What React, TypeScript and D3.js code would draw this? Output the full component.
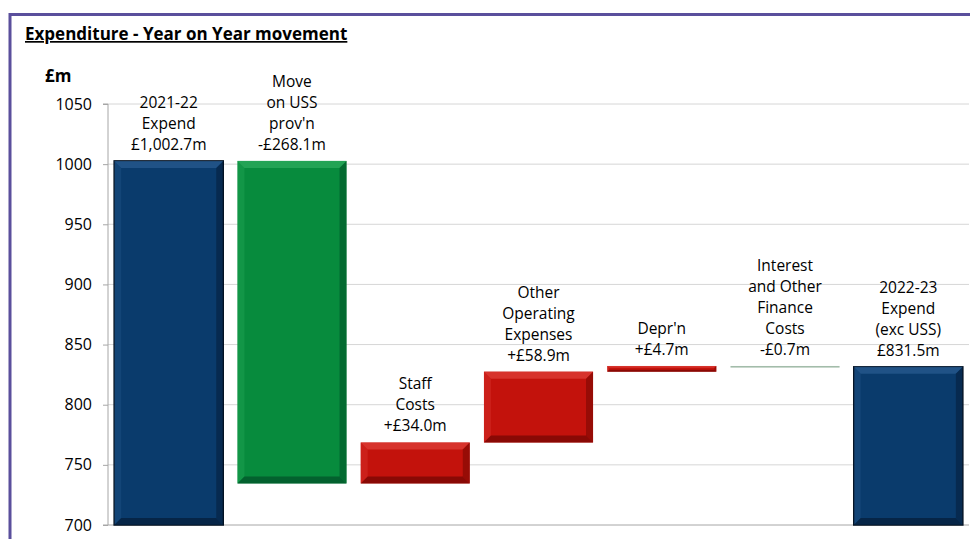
import React, { useEffect, useRef } from 'react';
import * as d3 from 'd3';

// Waterfall steps (in £m)
const labels: string[][] = [
    ['2021-22', 'Expend', '£1,002.7m'],
    ['Move', 'on USS', "prov'n", '-£268.1m'],
    ['Staff', 'Costs', '+£34.0m'],
    ['Other', 'Operating', 'Expenses', '+£58.9m'],
    ["Depr'n", '+£4.7m'],
    ['Interest', 'and Other', 'Finance', 'Costs', '-£0.7m'],
    ['2022-23', 'Expend', '(exc USS)', '£831.5m'],
];
const stepType = ['total', 'change', 'change', 'change', 'change', 'change', 'total'];
const stepValues = [1002.7, -268.1, 34.0, 58.9, 4.7, -0.7, 831.5];
const yTicks = [700, 750, 800, 850, 900, 950, 1000, 1050];

const FONT = "'Open Sans', 'Noto Sans', sans-serif";

export default function App() {
    const ref = useRef<SVGSVGElement | null>(null);

    useEffect(() => {
        const svg = d3.select(ref.current);
        svg.selectAll('*').remove();

        const W = 970;
        const H = 539;
        const margin = { top: 104, right: 1, bottom: 14, left: 108 };
        const innerW = W - margin.left - margin.right;
        const innerH = H - margin.top - margin.bottom;

        // frame
        svg.append('rect').attr('width', W).attr('height', H).attr('fill', '#fff');
        svg.append('line').attr('x1', 9).attr('x2', W).attr('y1', 14.5).attr('y2', 14.5)
            .attr('stroke', '#5a4f9c').attr('stroke-width', 3);
        svg.append('line').attr('x1', 10).attr('x2', 10).attr('y1', 13).attr('y2', H)
            .attr('stroke', '#5a4f9c').attr('stroke-width', 3);

        svg.append('text').attr('x', 25).attr('y', 40)
            .attr('font-family', FONT).attr('font-size', 17).attr('font-weight', 700)
            .attr('text-decoration', 'underline').attr('fill', '#000')
            .text('Expenditure - Year on Year movement');
        svg.append('text').attr('x', 45).attr('y', 82)
            .attr('font-family', FONT).attr('font-size', 17).attr('font-weight', 700)
            .attr('fill', '#000').text('£m');

        const g = svg.append('g').attr('transform', `translate(${margin.left},${margin.top})`);

        const x = d3.scaleBand<number>()
            .domain(d3.range(stepValues.length))
            .range([0, innerW])
            .paddingInner(0.115)
            .paddingOuter(0.05);
        const y = d3.scaleLinear().domain([700, 1050]).range([innerH, 0]);

        // gridlines
        g.selectAll('.grid').data(yTicks.slice(1)).enter().append('line')
            .attr('x1', 0).attr('x2', innerW)
            .attr('y1', (d) => y(d)).attr('y2', (d) => y(d))
            .attr('stroke', '#d6d6d6').attr('stroke-width', 1);

        const yAxis = g.append('g').call(d3.axisLeft(y).tickValues(yTicks).tickSize(5).tickPadding(11).tickFormat(d3.format('d')));
        yAxis.select('.domain').attr('stroke', '#a6a6a6').attr('d', `M-5,0H0V${innerH}H-5`);
        yAxis.selectAll('.tick line').attr('stroke', '#a6a6a6');
        yAxis.selectAll('.tick text').attr('font-family', FONT).attr('font-size', 16).attr('fill', '#000');
        g.append('line').attr('x1', 0).attr('x2', innerW).attr('y1', innerH).attr('y2', innerH)
            .attr('stroke', '#a6a6a6');

        // compute waterfall extents
        let running = 0;
        const steps = stepValues.map((v, i) => {
            let lo: number, hi: number;
            if (stepType[i] === 'total') {
                lo = 700; hi = v; running = v;
            } else {
                const next = running + v;
                lo = Math.min(running, next); hi = Math.max(running, next);
                running = next;
            }
            return { i, v, lo, hi };
        });

        const palette = (s: { i: number; v: number }) => {
            if (stepType[s.i] === 'total') return { base: '#0a3b6c', light: '#2a5d92', dark: '#05203e', stroke: '#03101f' };
            if (s.i === 1) return { base: '#078b3d', light: '#2fae5f', dark: '#03562a', stroke: 'none' };
            if (Math.abs(s.v) < 1) return { base: '#a3bcaa', light: '#a3bcaa', dark: '#a3bcaa', stroke: 'none' };
            return { base: '#c3120c', light: '#e0423a', dark: '#7a0804', stroke: 'none' };
        };

        const bars = g.selectAll('.bar').data(steps).enter().append('g');
        bars.each(function (s) {
            const bg = d3.select(this);
            const c = palette(s);
            const bx = x(s.i)!;
            const bw = x.bandwidth();
            const by = y(s.hi);
            const bh = Math.max(y(s.lo) - y(s.hi), 1.6);
            bg.append('rect').attr('x', bx).attr('y', by).attr('width', bw).attr('height', bh)
                .attr('fill', c.base).attr('stroke', c.stroke).attr('stroke-width', 1.5);
            const b = Math.min(7, bh / 3);
            if (b < 1) return;
            const poly = (pts: number[][], fill: string, op: number) =>
                bg.append('polygon').attr('points', pts.map((p) => p.join(',')).join(' '))
                    .attr('fill', fill).attr('opacity', op);
            poly([[bx, by], [bx + bw, by], [bx + bw - b, by + b], [bx + b, by + b]], c.light, 0.7);
            poly([[bx, by], [bx + b, by + b], [bx + b, by + bh - b], [bx, by + bh]], c.light, 0.3);
            poly([[bx + bw, by], [bx + bw, by + bh], [bx + bw - b, by + bh - b], [bx + bw - b, by + b]], c.dark, 0.6);
            poly([[bx, by + bh], [bx + bw, by + bh], [bx + bw - b, by + bh - b], [bx + b, by + bh - b]], c.dark, 0.8);
        });

        // labels above bars
        const lineH = 21;
        steps.forEach((s) => {
            const lines = labels[s.i];
            const cx = x(s.i)! + x.bandwidth() / 2;
            const baseY = y(s.hi) - 11;
            const t = g.append('text').attr('text-anchor', 'middle')
                .attr('font-family', FONT).attr('font-size', 15.5).attr('fill', '#000');
            lines.forEach((ln, k) => {
                t.append('tspan').attr('x', cx)
                    .attr('y', baseY - (lines.length - 1 - k) * lineH)
                    .text(ln);
            });
        });
    }, []);

    return (
        <svg ref={ref} width={970} height={539}
            style={{ position: 'absolute', left: 0, top: 0, display: 'block' }} />
    );
}
